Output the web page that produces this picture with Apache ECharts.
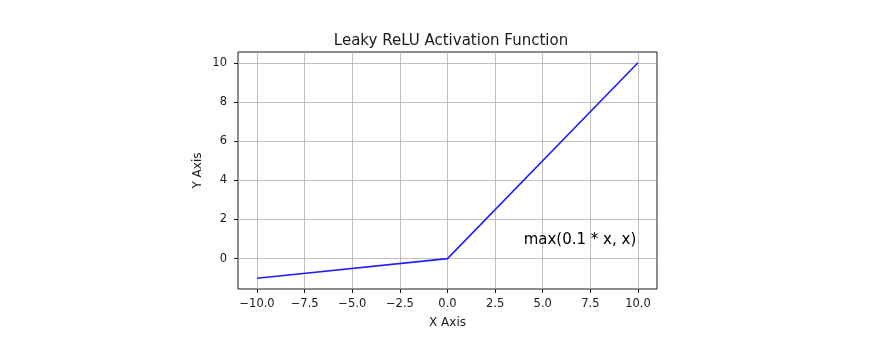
<!DOCTYPE html>
<html><head><meta charset="utf-8">
<script src="https://cdn.jsdelivr.net/npm/echarts@6/dist/echarts.min.js"></script>
<style>html,body{margin:0;padding:0;background:#fff}#c{width:869px;height:342px}</style>
</head><body><div id="c"></div>
<script>
const titleText = 'Leaky ReLU Activation Function';
const xName = 'X Axis';
const yName = 'Y Axis';
const xValues = [-10, 0, 10];
const yValues = [-1, 0, 10];
const xTicks = [-10, -7.5, -5, -2.5, 0, 2.5, 5, 7.5, 10];
const yTicks = [0, 2, 4, 6, 8, 10];
const annotText = 'max(0.1 * x, x)';
const annotPos = [4, 1];

const font = 'DejaVu Sans';
const chart = echarts.init(document.getElementById('c'), null, {renderer: 'canvas'});
const gridLine = {color: '#b0b0b0', width: 0.8, type: 'solid'};
const markData = xTicks.map(v => ({xAxis: v})).concat(yTicks.map(v => ({yAxis: v})));
chart.setOption({
  animation: false,
  backgroundColor: '#fff',
  title: {text: titleText, left: 446, textAlign: 'center', top: 29,
    textStyle: {fontFamily: font, fontSize: 15, fontWeight: 'normal', color: '#1a1a1a'}},
  grid: {left: 238, right: 212, top: 52, bottom: 53, show: true, borderColor: '#1a1a1a', borderWidth: 1, backgroundColor: 'transparent'},
  xAxis: {type: 'value', min: -11, max: 11,
    name: xName, nameLocation: 'middle', nameGap: 28,
    nameTextStyle: {fontFamily: font, fontSize: 12, color: '#1a1a1a'},
    axisLine: {show: false, onZero: false},
    axisTick: {show: true, length: 4, inside: false, customValues: xTicks, lineStyle: {color: '#1a1a1a'}},
    axisLabel: {customValues: xTicks, fontFamily: font, fontSize: 11.5, color: '#1a1a1a', margin: 9,
      formatter: v => (v < 0 ? '\u2212' : '') + Math.abs(v).toFixed(1)},
    splitLine: {show: false}},
  yAxis: {type: 'value', min: -1.55, max: 10.55,
    name: yName, nameLocation: 'middle', nameGap: 34, nameRotate: 90,
    nameTextStyle: {fontFamily: font, fontSize: 12, color: '#1a1a1a'},
    axisLine: {show: false, onZero: false},
    axisTick: {show: true, length: 4, customValues: yTicks, lineStyle: {color: '#1a1a1a'}},
    axisLabel: {customValues: yTicks, fontFamily: font, fontSize: 11.5, color: '#1a1a1a', margin: 11},
    splitLine: {show: false}},
  series: [
    {type: 'line', data: xValues.map((x, i) => [x, yValues[i]]), showSymbol: false,
      lineStyle: {color: '#1f1fff', width: 1.6}, z: 3,
      markLine: {silent: true, symbol: 'none', label: {show: false}, lineStyle: gridLine, data: markData, z: 1}},
    {type: 'scatter', data: [annotPos], symbolSize: 0, silent: true, z: 4,
      itemStyle: {opacity: 1, color: '#000'},
      label: {show: true, formatter: annotText, position: [0, 0], align: 'left', verticalAlign: 'middle', offset: [0, 1],
        fontFamily: font, fontSize: 15, color: '#000', opacity: 1, textBorderWidth: 0}}
  ]
});
</script></body></html>
